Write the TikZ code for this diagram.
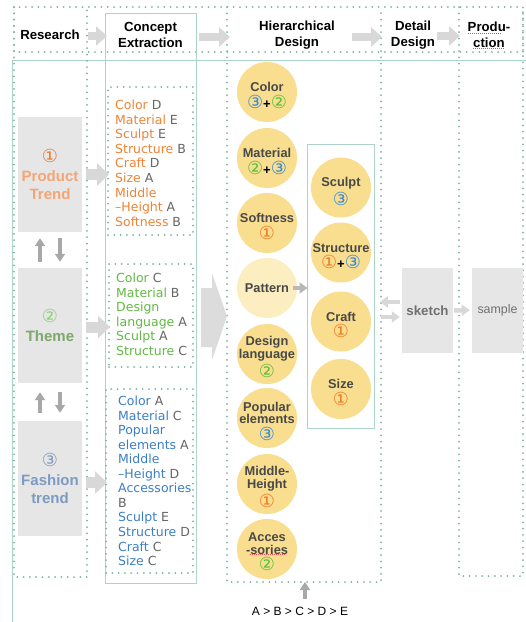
\documentclass[tikz,border=0pt]{standalone}
\usepackage{fontspec}
\setmainfont{Liberation Sans}
\newfontfamily\djv{DejaVu Sans}
\usetikzlibrary{arrows.meta}

\definecolor{dotc}{HTML}{7FB3A2}
\definecolor{framec}{HTML}{ADD5C7}
\definecolor{boxgray}{HTML}{E6E6E6}
\definecolor{arrgray}{HTML}{D8D8D8}
\definecolor{bigarr}{HTML}{DCDCDC}
\definecolor{darrgray}{HTML}{A8A8A8}
\definecolor{patarr}{HTML}{B8B8B8}
\definecolor{circy}{HTML}{F8DE8E}
\definecolor{circpale}{HTML}{FCEEC0}
\definecolor{txtdark}{HTML}{484848}
\definecolor{grade}{HTML}{666666}
\definecolor{korange}{HTML}{EF8435}
\definecolor{kgreen}{HTML}{62B944}
\definecolor{kblue}{HTML}{3C7FC6}
\definecolor{norange}{HTML}{F07A28}
\definecolor{ngreen}{HTML}{5CBE3C}
\definecolor{nblue}{HTML}{3A88D4}
\definecolor{torange}{HTML}{F3A673}
\definecolor{tgreen}{HTML}{7DA86E}
\definecolor{tblue}{HTML}{7D9BC1}
\definecolor{squig}{HTML}{E0504A}
\definecolor{skgray}{HTML}{707070}

% circled digit in DejaVu Sans, and a bold plus sign
\newcommand\cnum[2]{{\djv\mdseries\fontsize{18}{12.5}\selectfont\textcolor{#1}{#2}}}
\newcommand\cplus{{\fontsize{13}{12.5}\selectfont\textcolor{black}{+}}}

\begin{document}
\begin{tikzpicture}[x=1pt,y=-1pt,
  dotline/.style={draw=dotc, line width=2pt, dash pattern=on 0pt off 6.3pt, line cap=round},
  frameline/.style={draw=framec, line width=1pt},
  hdr/.style={font=\fontsize{13.2}{16}\selectfont\bfseries, align=center, inner sep=0pt},
  rbox/.style={fill=boxgray, minimum width=64pt, minimum height=115pt, inner sep=0pt,
    align=center, font=\fontsize{15}{18.5}\selectfont\bfseries},
  litem/.style={anchor=base west, inner sep=0pt, font=\djv\fontsize{12.5}{14.6}\selectfont},
  lbox/.style={dotline, inner sep=0pt},
  hcirc/.style={circle, fill=circy, minimum size=60pt, inner sep=0pt},
  ctext/.style={align=center, inner sep=0pt, text=txtdark, font=\fontsize{12.8}{12.5}\selectfont\bfseries},
  graybox/.style={fill=boxgray, minimum width=51pt, minimum height=85pt, inner sep=0pt, text=skgray},
  fatarrow/.style={draw=arrgray, line width=11pt, -{Triangle[width=22pt,length=12pt]}},
  hdrarrow/.style={draw=arrgray, line width=7.5pt, -{Triangle[width=19pt,length=11pt]}},
  thinarrow/.style={draw=darrgray, line width=3.5pt, -{Triangle[width=10pt,length=8pt]}},
  midarrow/.style={draw=arrgray, line width=4.5pt, -{Triangle[width=11pt,length=8pt]}},
  squigline/.style={draw=squig, line width=0.6pt, dash pattern=on 1pt off 1pt},
]
\useasboundingbox (0,0) rectangle (526,622);
\fill[white] (0,0) rectangle (526,622);

% ---------- outer frame ----------
\draw[frameline] (526,60) -- (12,60) -- (12,622);

% ---------- dotted header band and columns ----------
\draw[dotline] (14,7) rectangle (523,52);
\draw[dotline] (14,7) -- (14,577) -- (87,577) -- (87,7);
\draw[dotline] (227,7) -- (227,582) -- (381,582) -- (381,7);
\draw[dotline] (459,7) -- (459,576) -- (523,576) -- (523,7);

% concept extraction column
\node[frameline, draw, minimum width=91pt, minimum height=570pt, inner sep=0pt] (cecol) at (150.5,298) {};

% ---------- header ----------
\node[hdr] (hRes) at (50,35) {Research};
\node[hdr] (hCon) at (150.5,35) {Concept\\Extraction};
\node[hdr] (hHie) at (297,35) {Hierarchical\\Design};
\node[hdr] (hDet) at (413,35) {Detail\\Design};
\node[hdr] (hPro) at (489,35) {Produ-\\ction};
\draw[squigline] (468,33.5) -- (501,33.5);
\draw[squigline] (473,48.5) -- (505,48.5);

\coordinate (ha1s) at (88,36);  \coordinate (ha1e) at (107,36);
\coordinate (ha2s) at (199,37); \coordinate (ha2e) at (230,37);
\coordinate (ha3s) at (352,37); \coordinate (ha3e) at (382,37);
\coordinate (ha4s) at (437,36); \coordinate (ha4e) at (460,36);
\draw[hdrarrow] (ha1s) -- (ha1e);
\draw[hdrarrow] (ha2s) -- (ha2e);
\draw[hdrarrow] (ha3s) -- (ha3e);
\draw[hdrarrow] (ha4s) -- (ha4e);

% ---------- research sources ----------
\node[rbox, text=torange] (rA) at (50,174.5) {\cnum{norange}{①}\\Product\\Trend};
\node[rbox, text=tgreen] (rB) at (50,325.5) {\cnum{ngreen!70!white}{②}\\Theme};
\node[rbox, text=tblue] (rC) at (50,478.5) {\cnum{tblue}{③}\\Fashion\\trend};

\draw[thinarrow] ([xshift=-10,yshift=6]rB.north) -- ([xshift=-10,yshift=-6]rA.south);
\draw[thinarrow] ([xshift=10,yshift=-6]rA.south) -- ([xshift=10,yshift=6]rB.north);
\draw[thinarrow] ([xshift=-10,yshift=8]rC.north) -- ([xshift=-10,yshift=-9]rB.south);
\draw[thinarrow] ([xshift=10,yshift=-9]rB.south) -- ([xshift=10,yshift=8]rC.north);

% ---------- concept lists ----------
\node[lbox, minimum width=85pt, minimum height=148pt] (lA) at (150.5,161) {};
\node[lbox, minimum width=84pt, minimum height=103pt] (lB) at (151,315.5) {};
\node[lbox, minimum width=87pt, minimum height=184pt] (lC) at (149.5,481) {};

\foreach \k/\g [count=\i] in {Color/D, Material/E, Sculpt/E, Structure/B, Craft/D, Size/A, Middle/{}, {–Height}/A, Softness/B}
  \node[litem, text=korange] (la\i) at (115,{109.5+14.6*(\i-1)}) {\k\ \textcolor{grade}{\g}};
\foreach \k/\g [count=\i] in {Color/C, Material/B, Design/{}, language/A, Sculpt/A, Structure/C}
  \node[litem, text=kgreen] (lb\i) at (116,{282.5+14.6*(\i-1)}) {\k\ \textcolor{grade}{\g}};
\foreach \k/\g [count=\i] in {Color/A, Material/C, Popular/{}, elements/A, Middle/{}, {–Height}/D, Accessories/{}, {\textcolor{grade}{B}}/{}, Sculpt/E, Structure/D, Craft/C, Size/C}
  \node[litem, text=kblue] (lc\i) at (118,{405.5+14.55*(\i-1)}) {\k\ \textcolor{grade}{\g}};

\draw[fatarrow] ([xshift=4]rA.east) -- ([xshift=2]rA.east -| lA.west);
\draw[fatarrow] ([xshift=4,yshift=-1.5]rB.east) -- ([xshift=2,yshift=-1.5]rB.east -| lB.west);
\draw[fatarrow] ([xshift=4,yshift=-4]rC.east) -- ([xshift=2,yshift=-4]rC.east -| lC.west);

% ---------- transfer arrow into hierarchical design ----------
\fill[bigarr] (201,288) -- (212,288) -- (212,273) -- (227,316.5) -- (212,360) -- (212,347) -- (201,347) -- cycle;

% ---------- hierarchical design ----------
\node[hcirc] (cColor) at (267,92) {};
\node[hcirc] (cMat) at (267,158) {};
\node[hcirc] (cSoft) at (267,223) {};
\node[hcirc, fill=circpale] (cPat) at (267,288) {};
\node[hcirc] (cDes) at (267,354) {};
\node[hcirc] (cPop) at (267,418) {};
\node[hcirc] (cMid) at (267,484) {};
\node[hcirc] (cAcc) at (267,549) {};

\node[frameline, draw, minimum width=67pt, minimum height=284pt, inner sep=0pt] (sbox) at (340.5,286) {};
\node[hcirc] (cScu) at (341,187.5) {};
\node[hcirc] (cStr) at (341,252.5) {};
\node[hcirc] (cCra) at (341,321.5) {};
\node[hcirc] (cSiz) at (341,389) {};

\node[ctext] (tColor) at ([yshift=-3.5]cColor.center) {Color\\[2pt]\cnum{nblue}{③}\cplus\cnum{ngreen}{②}};
\node[ctext] (tMat) at ([yshift=-3.5]cMat.center) {Material\\[2pt]\cnum{ngreen}{②}\cplus\cnum{nblue}{③}};
\node[ctext] (tSoft) at ([yshift=-3.5]cSoft.center) {Softness\\[2pt]\cnum{norange}{①}};
\node[ctext] (tPat) at (cPat.center) {Pattern};
\node[ctext] (tDes) at ([yshift=-3]cDes.center) {Design\\language\\[2pt]\cnum{ngreen}{②}};
\node[ctext] (tPop) at ([yshift=-3]cPop.center) {Popular\\elements\\[2pt]\cnum{nblue}{③}};
\node[ctext] (tMid) at ([yshift=-3]cMid.center) {Middle-\\Height\\[2pt]\cnum{norange}{①}};
\node[ctext] (tAcc) at ([yshift=-3]cAcc.center) {Acces\\-sories\\[2pt]\cnum{ngreen}{②}};
\draw[squigline] (250,554.5) -- (285,554.5);

\node[ctext] (tScu) at ([yshift=-3.5]cScu.center) {Sculpt\\[2pt]\cnum{nblue}{③}};
\node[ctext] (tStr) at ([yshift=-3.5]cStr.center) {Structure\\[2pt]\cnum{norange}{①}\cplus\cnum{nblue}{③}};
\node[ctext] (tCra) at ([yshift=-3.5]cCra.center) {Craft\\[2pt]\cnum{norange}{①}};
\node[ctext] (tSiz) at ([yshift=-3.5]cSiz.center) {Size\\[2pt]\cnum{norange}{①}};

\draw[midarrow, draw=patarr] ([xshift=-4]cPat.east) -- ([xshift=1]cPat.east -| sbox.west);

% ---------- detail design and production ----------
\node[graybox, font=\fontsize{13.3}{15}\selectfont\bfseries] (sk) at (427.5,310.5) {sketch};
\node[graybox, font=\fontsize{12.4}{15}\selectfont] (sm) at (497.5,310) {sample};

\draw[midarrow] ([shift={(-2,-8.5)}]sk.west) -- ([shift={(-22,-8.5)}]sk.west);
\draw[midarrow] ([shift={(-21,6.5)}]sk.west) -- ([shift={(-2,6.5)}]sk.west);
\draw[midarrow] ([xshift=1]sk.east) -- ([xshift=-2]sm.west);

% ---------- ranking scale ----------
\node[inner sep=0pt, font=\fontsize{12}{14}\selectfont] (rank) at (300,611) {A > B > C > D > E};
\coordinate (rankTop) at (305,599);
\coordinate (hbot) at (305,582);
\draw[thinarrow] (rankTop) -- (hbot);

\end{tikzpicture}
\end{document}
